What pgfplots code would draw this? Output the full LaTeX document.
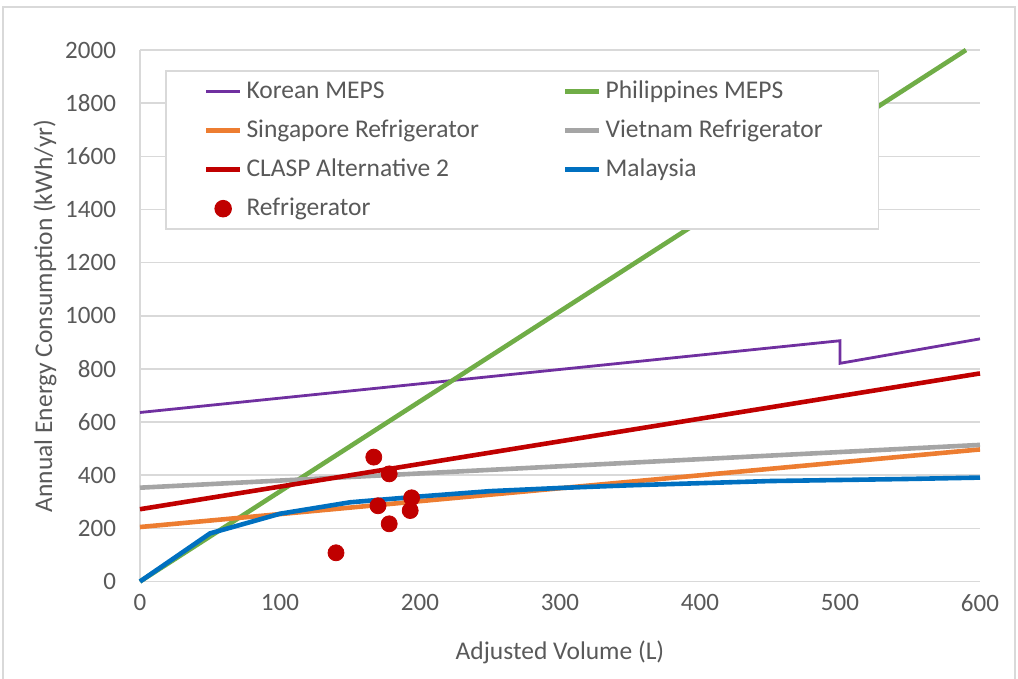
\documentclass[border=0pt]{standalone}
\usepackage{fontspec}
\setmainfont{Carlito}
\usepackage{pgfplots}
\pgfplotsset{compat=1.18}
\definecolor{txt}{HTML}{595959}
\definecolor{gridc}{HTML}{D9D9D9}
\definecolor{korea}{HTML}{7030A0}
\definecolor{phil}{HTML}{70AD47}
\definecolor{sing}{HTML}{ED7D31}
\definecolor{viet}{HTML}{A5A5A5}
\definecolor{clasp}{HTML}{C00000}
\definecolor{malay}{HTML}{0070C0}

\begin{document}
\begin{tikzpicture}[font=\fontsize{12.75}{15}\selectfont]
\path[use as bounding box] (0,0) rectangle (509pt,-339.5pt);
\draw[gridc, line width=0.75pt] (1.5pt,-3.5pt) rectangle (507.5pt,-340pt);
\begin{axis}[
    at={(70pt,-290.75pt)}, anchor=south west,
    scale only axis, width=420pt, height=265.75pt,
    xmin=0, xmax=600, ymin=0, ymax=2000,
    xtick={0,100,...,600}, ytick={0,200,...,2000},
    axis x line=bottom, axis y line=left,
    axis line style={-, draw=gridc, line width=0.75pt},
    ymajorgrids, grid style={gridc, line width=0.75pt},
    major tick length=0pt,
    tick label style={text=txt, font=\fontsize{12.5}{15}\selectfont},
    xticklabel style={yshift=-3pt},
    yticklabel style={xshift=-8.5pt},
    /pgf/number format/assume math mode=true,
    /pgf/number format/1000 sep={},
    xlabel={Adjusted Volume (L)},
    ylabel={Annual Energy Consumption (kWh/yr)},
    xlabel style={at={(axis description cs:0.5,-0.1326)}, anchor=center, text=txt},
    ylabel style={at={(axis description cs:-0.113,0.5)}, anchor=center, text=txt},
    clip=false,
    legend columns=2,
    legend cell align=left,
    legend style={at={(axis description cs:0.0298,0.962)}, anchor=north west,
        draw=gridc, line width=0.75pt, fill=white, text=txt,
        inner xsep=19pt, inner ysep=3pt, row sep=5.25pt,
        /tikz/every even column/.append style={column sep=40pt},
        /tikz/column 4/.append style={nodes={execute at end node={\hspace{7pt}}}}},
]
\addplot[korea, line width=1.4pt] coordinates {(0,636) (500,906) (500,821) (600,913)};
\addlegendentry{Korean MEPS}
\addplot[phil, line width=2.3pt] coordinates {(0,0) (590,2000)};
\addlegendentry{Philippines MEPS}
\addplot[sing, line width=2.3pt] coordinates {(0,205) (600,497)};
\addlegendentry{Singapore Refrigerator}
\addplot[viet, line width=2.3pt] coordinates {(0,353) (600,514)};
\addlegendentry{Vietnam Refrigerator}
\addplot[clasp, line width=2.3pt] coordinates {(0,272) (600,783)};
\addlegendentry{CLASP Alternative 2}
\addplot[malay, line width=2.3pt] coordinates {
    (0,0) (50,181) (100,255) (150,298) (200,320) (250,340) (300,352)
    (350,362) (400,370) (450,378) (500,382) (550,386) (600,391)};
\addlegendentry{Malaysia}
\addplot[only marks, mark=*, mark size=4pt, mark options={draw=clasp, fill=clasp}] coordinates {
    (140,108) (167,468) (170,285) (178,405) (178,217) (193,267) (194,315)};
\addlegendentry{Refrigerator}
\end{axis}
\end{tikzpicture}
\end{document}
